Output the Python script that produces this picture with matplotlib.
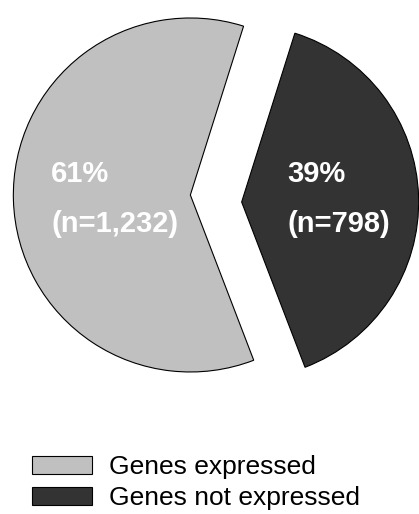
import matplotlib
matplotlib.use("Agg")
import matplotlib.pyplot as plt
from matplotlib.patches import Rectangle
from matplotlib.transforms import Affine2D

# Gene expression counts
categories = ["Genes expressed", "Genes not expressed"]
counts = [1232, 798]
colors = ["#c0c0c0", "#333333"]

plt.rcParams["font.family"] = ["Liberation Sans", "DejaVu Sans"]

W, H = 419, 514
fig = plt.figure(figsize=(W / 100, H / 100), dpi=100)
ax = fig.add_axes([0, 0, 1, 1])

# pixel scale: one data unit = R_PX pixels, pie centre at (CX, CY) in pixels from top-left
R_PX = 177.0
CX, CY = 216.0, 194.2

wedges, _ = ax.pie(
    counts,
    colors=colors,
    startangle=72.5,
    counterclock=True,
    explode=[0.145, 0.145],
    radius=1.0,
    wedgeprops=dict(edgecolor="black", linewidth=0.8),
)
ax.set_xlim(-CX / R_PX, (W - CX) / R_PX)
ax.set_ylim(-(H - CY) / R_PX, CY / R_PX)
ax.set_aspect("auto")
ax.axis("off")

# the detached slice sits a little lower than the main one
wedges[1].set_transform(Affine2D().translate(0, -8.6 / R_PX) + ax.transData)

total = sum(counts)
label_px = [(51, 182), (287, 182)]
for (px, py), c in zip(label_px, counts):
    pct = round(100 * c / total)
    x = (px - CX) / R_PX
    y1 = (CY - py) / R_PX
    y2 = (CY - (py + 50)) / R_PX
    ax.text(x, y1, f"{pct}%", color="white", fontsize=21, fontweight="bold",
            ha="left", va="baseline")
    ax.text(x, y2, f"(n={c:,})", color="white", fontsize=21, fontweight="bold",
            ha="left", va="baseline")

handles = [Rectangle((0, 0), 1, 1, facecolor=col, edgecolor="black", linewidth=0.8)
           for col in colors]
fig.legend(handles, categories, loc="upper left",
           bbox_to_anchor=(32 / W, 1 - 455 / H), frameon=False,
           fontsize=19, handlelength=2.27, handleheight=0.68,
           handletextpad=0.64, labelspacing=0.28, borderpad=0, borderaxespad=0)

fig.savefig("out.png", dpi=100)
